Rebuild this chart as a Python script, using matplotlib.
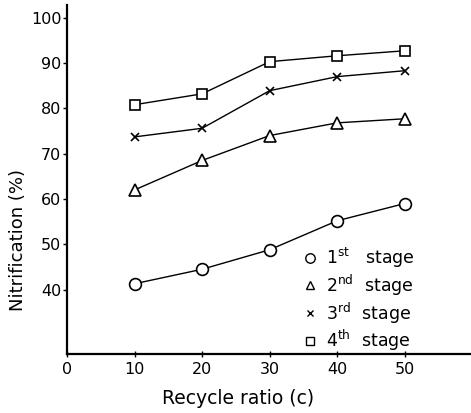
import matplotlib
matplotlib.use("Agg")
import matplotlib.pyplot as plt

recycle = [10, 20, 30, 40, 50]
stage1 = [41.3, 44.5, 48.8, 55.2, 59.0]
stage2 = [62.0, 68.5, 74.0, 76.8, 77.7]
stage3 = [73.7, 75.6, 83.9, 87.0, 88.3]
stage4 = [80.8, 83.2, 90.3, 91.6, 92.7]
labels = [r"1$^{\rm st}$   stage", r"2$^{\rm nd}$  stage",
          r"3$^{\rm rd}$  stage", r"4$^{\rm th}$  stage"]
xticks = [0, 10, 20, 30, 40, 50]
yticks = [40, 50, 60, 70, 80, 90, 100]

plt.rcParams['font.family'] = ['DejaVu Sans']
fig = plt.figure(figsize=(4.71, 4.13), dpi=100)
ax = fig.add_axes([67/471, 1 - 354/413, 1 - 67/471, 349/413])

series = [stage1, stage2, stage3, stage4]
markers = ['o', '^', 'x', 's']
sizes = [8.5, 8, 6, 7]
handles = []
for ys, m, s in zip(series, markers, sizes):
    ax.plot(recycle, ys, color='black', lw=1.0, marker=m, ms=s,
            mfc='white', mec='black', mew=1.2)
    h, = ax.plot([], [], ls='none', marker=m, ms=s * 0.8, mfc='white',
                 mec='black', mew=1.0, color='black')
    handles.append(h)

ax.set_xlim(0, 59.8)
ax.set_ylim(25.8, 102.8)
ax.set_xticks(xticks)
ax.set_yticks(yticks)
ax.tick_params(axis='x', direction='inout', length=5, width=1, labelsize=11.5, pad=3)
ax.tick_params(axis='y', direction='out', length=3, width=1, labelsize=11.5, pad=1)
for sp in ['top', 'right']:
    ax.spines[sp].set_visible(False)
for sp in ['left', 'bottom']:
    ax.spines[sp].set_linewidth(1.6)

ax.set_ylabel("Nitrification (%)", fontsize=13)
ax.yaxis.set_label_coords(-0.098, 0.327)
ax.set_xlabel("Recycle ratio (c)", fontsize=13.5)
ax.xaxis.set_label_coords(0.423, -0.1)

ax.legend(handles, labels, loc='upper left', bbox_to_anchor=(0.584, 0.31),
          frameon=False, fontsize=12.5, handlelength=0.8, handletextpad=0.5,
          labelspacing=0.15, borderpad=0, borderaxespad=0)

fig.savefig("out.png", dpi=100)
